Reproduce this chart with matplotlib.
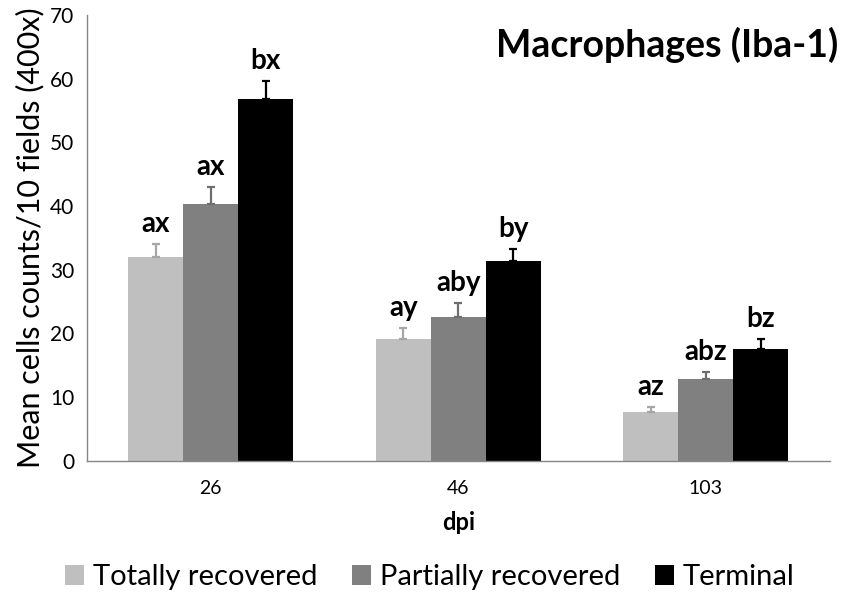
import numpy as np
import matplotlib.pyplot as plt

# data
dpi_labels = ['26', '46', '103']
groups = ['Totally recovered', 'Partially recovered', 'Terminal']
means = [
    [32.0, 19.1, 7.6],    # totally recovered
    [40.3, 22.6, 12.8],   # partially recovered
    [56.8, 31.4, 17.6],   # terminal
]
errs = [
    [2.1, 1.7, 0.8],
    [2.7, 2.2, 1.1],
    [2.8, 1.8, 1.6],
]
letters = [
    ['ax', 'ay', 'az'],
    ['ax', 'aby', 'abz'],
    ['bx', 'by', 'bz'],
]

bar_colors = ['#bfbfbf', '#808080', '#000000']
err_colors = ['#a6a6a6', '#6e6e6e', '#000000']

plt.rcParams['font.family'] = ['Lato', 'DejaVu Sans']

fig = plt.figure(figsize=(8.51, 6.0), dpi=100)
ax = fig.add_axes([0.102, 0.232, 0.873, 0.743])

x = np.arange(len(dpi_labels))
w = 0.222
for i in range(3):
    pos = x + (i - 1) * w
    ax.bar(pos, means[i], w, color=bar_colors[i], label=groups[i], zorder=2)
    ax.errorbar(pos, means[i], yerr=[np.zeros(3), errs[i]], fmt='none',
                ecolor=err_colors[i], elinewidth=1.6, capsize=3, capthick=1.6,
                zorder=3)
    for j in range(3):
        ax.annotate(letters[i][j], (pos[j], means[i][j] + errs[i][j]),
                    xytext=(0, 5), textcoords='offset points',
                    ha='center', va='bottom', fontsize=20, fontweight='bold')

ax.set_xlim(-0.5, 2.5)
ax.set_ylim(0, 70)
ax.set_yticks(range(0, 71, 10))
ax.set_xticks(x)
ax.set_xticklabels(dpi_labels)
ax.tick_params(axis='y', length=0, labelsize=15, pad=9)
ax.tick_params(axis='x', length=0, labelsize=14, pad=14)

for s in ['top', 'right']:
    ax.spines[s].set_visible(False)
for s in ['left', 'bottom']:
    ax.spines[s].set_color('#868686')
    ax.spines[s].set_linewidth(1.0)

ax.set_ylabel('Mean cells counts/10 fields (400x)', fontsize=22, labelpad=4)
ax.set_xlabel('dpi', fontsize=17, fontweight='bold', labelpad=10)

fig.text(0.985, 0.925, 'Macrophages (Iba-1)', ha='right', va='center',
         fontsize=27, fontweight='bold')

fig.legend(loc='center', bbox_to_anchor=(0.505, 0.038), ncol=3, frameon=False,
           fontsize=21, handlelength=0.65, handleheight=0.65, handletextpad=0.3,
           columnspacing=1.2)

plt.savefig('out.png', dpi=100)
